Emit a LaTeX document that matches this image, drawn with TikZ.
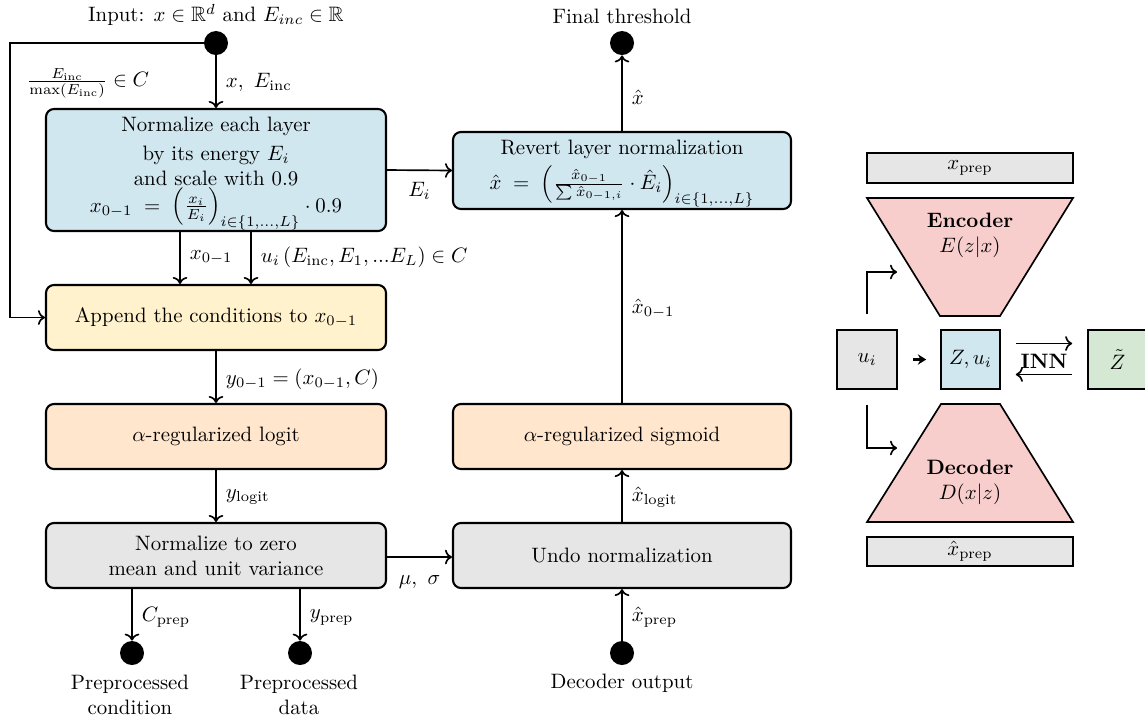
\documentclass[tikz,border=0pt]{standalone}
\usepackage{amsmath,amssymb}
\usetikzlibrary{arrows.meta,calc}
\def\pxl{0.48pt}
\definecolor{cblue}{RGB}{209,231,240}
\definecolor{cyellow}{RGB}{255,242,204}
\definecolor{corange}{RGB}{255,230,204}
\definecolor{cgray}{RGB}{230,230,230}
\definecolor{cpink}{RGB}{248,206,204}
\definecolor{cgreen}{RGB}{213,232,212}
\tikzset{
  box/.style={draw, line width=1pt, rounded corners=3.8pt, align=center, inner sep=0pt},
  lbox/.style={box, minimum width=340*\pxl},
  rbox/.style={box, minimum width=338*\pxl},
  sbox/.style={draw, line width=0.8pt, inner sep=0pt, align=center},
  dot/.style={circle, fill=black, minimum size=24*\pxl, inner sep=0pt},
  conn/.style={line width=0.8pt, ->},
  lbl/.style={right=1pt},
  plain/.style={align=center, inner sep=0pt},
}
\begin{document}
\begin{tikzpicture}[x=0.48pt, y=-0.48pt]
\useasboundingbox (0,0) rectangle (1145,720);

% ---------- left column ----------
\node[dot] (in) at (216,43) {};
\node[plain] (intext) at (216,15) {Input: $x \in \mathbb{R}^d$ and $E_{inc} \in \mathbb{R}$};
\node[lbox, fill=cblue, minimum height=122*\pxl] (norm) at (216,170) {};
\node[plain, anchor=north] (normtxt) at (216,117)
  {Normalize each layer\\[1.5pt]by its energy $E_i$\\[0pt]and scale with 0.9\\[1pt]
   $x_{0-1} \;=\; \left(\frac{x_i}{E_i}\right)_{i\in\{1,\ldots,L\}} \cdot 0.9$};
\node[lbox, fill=cyellow, minimum height=65*\pxl] (app) at (216,317.5)
  {Append the conditions to $x_{0-1}$};
\node[lbox, fill=corange, minimum height=65*\pxl] (logit) at (216,436.5)
  {$\alpha$-regularized logit};
\node[lbox, fill=cgray, minimum height=65*\pxl] (zero) at (216,555.5)
  {Normalize to zero\\mean and unit variance};
\node[dot] (pc) at (132,653) {};
\node[dot] (pd) at (300,653) {};
\node[plain] (pctext) at (130,695) {Preprocessed\\condition};
\node[plain] (pdtext) at (299,695) {Preprocessed\\data};
\node[plain] (fblbl) at (88,83) {$\frac{E_{\text{inc}}}{\max(E_{\text{inc}})} \in C$};
\coordinate (fbc) at (10,317.5);

% ---------- middle column ----------
\node[dot] (thr) at (622,43) {};
\node[plain] (thrtext) at (622,16) {Final threshold};
\node[rbox, fill=cblue, minimum height=77*\pxl] (rev) at (622,170.5) {};
\node[plain, anchor=north] (revtxt) at (622,140)
  {Revert layer normalization\\[2pt]
   $\hat{x} \;=\; \left(\frac{\hat{x}_{0-1}}{\sum \hat{x}_{0-1,i}}\cdot \hat{E}_i\right)_{i\in\{1,\ldots,L\}}$};
\node[rbox, fill=corange, minimum height=65*\pxl] (sig) at (622,436.5)
  {$\alpha$-regularized sigmoid};
\node[rbox, fill=cgray, minimum height=65*\pxl] (undo) at (622,555.5)
  {Undo normalization};
\node[dot] (dec) at (622,653) {};
\node[plain] (dectext) at (622,683) {Decoder output};

% ---------- connectors ----------
\draw[conn] (in) -- (norm) node[lbl, pos=0.52] {$x,\ E_{\text{inc}}$};
\draw[conn] (in.center) -| (fbc) -- (app.west);
\draw[conn] (norm.east) -- (rev.west) node[below=2pt, midway] {$E_i$};
\draw[conn] ([xshift=-36*\pxl]norm.south) -- ([xshift=-36*\pxl]app.north)
  node[lbl, pos=0.48] {$x_{0-1}$};
\draw[conn] ([xshift=35*\pxl]norm.south) -- ([xshift=35*\pxl]app.north)
  node[lbl, pos=0.48] {$u_i\,(E_{\text{inc}}, E_1, ...E_L) \in C$};
\draw[conn] (app) -- (logit) node[lbl, pos=0.55] {$y_{0-1} = (x_{0-1}, C)$};
\draw[conn] (logit) -- (zero) node[lbl, pos=0.52] {$y_{\text{logit}}$};
\draw[conn] (zero.south -| pc) -- (pc) node[lbl, pos=0.55] {$C_{\text{prep}}$};
\draw[conn] (zero.south -| pd) -- (pd) node[lbl, pos=0.55] {$y_{\text{prep}}$};
\draw[conn] ([yshift=-1.5*\pxl]zero.east) -- ([yshift=-1.5*\pxl]undo.west) node[below=5pt, midway] {$\mu,\ \sigma$};
\draw[conn] (dec) -- (undo) node[lbl, pos=0.45] {$\hat{x}_{\text{prep}}$};
\draw[conn] (undo) -- (sig) node[lbl, pos=0.48] {$\hat{x}_{\text{logit}}$};
\draw[conn] (sig) -- (rev) node[lbl, pos=0.49] {$\hat{x}_{0-1}$};
\draw[conn] (rev) -- (thr) node[lbl, pos=0.45] {$\hat{x}$};

% ---------- right diagram ----------
\node[sbox, fill=cgray, minimum width=206*\pxl, minimum height=30*\pxl] (xp) at (970,168) {$x_{\text{prep}}$};
\draw[line width=0.8pt, fill=cpink] (867,198) -- (1073,198) -- (1000,316) -- (940,316) -- cycle;
\node[plain] (enc) at (970,235) {\textbf{Encoder}\\$E(z|x)$};
\draw[line width=0.8pt, fill=cpink] (941,404) -- (1000,404) -- (1073,522) -- (867,522) -- cycle;
\node[plain] (decn) at (970,482) {\textbf{Decoder}\\$D(x|z)$};
\node[sbox, fill=cgray, minimum width=206*\pxl, minimum height=29*\pxl] (xhp) at (970,551.5) {$\hat{x}_{\text{prep}}$};
\node[sbox, fill=cgray, minimum width=60*\pxl, minimum height=59*\pxl] (ui) at (867,359.5) {$u_i$};
\node[sbox, fill=cblue, minimum width=59*\pxl, minimum height=59*\pxl] (zu) at (970.5,359.5) {$Z, u_i$};
\node[sbox, fill=cgreen, minimum width=59*\pxl, minimum height=59*\pxl] (zt) at (1117.5,359.5) {$\tilde{Z}$};
\node[plain] (inn) at (1044,361) {\textbf{INN}};
\coordinate (encin) at (897,272);
\coordinate (decin) at (897,448);
\draw[line width=1pt, -{Stealth[length=4pt,width=5pt]}, shorten <=15*\pxl, shorten >=14*\pxl] (ui) -- (zu);
\draw[conn, shorten <=15*\pxl, shorten >=15*\pxl] ([yshift=16*\pxl]zu.east) -- ([yshift=16*\pxl]zt.west);
\draw[conn, shorten <=15*\pxl, shorten >=15*\pxl] ([yshift=-15*\pxl]zt.west) -- ([yshift=-15*\pxl]zu.east);
\draw[conn] ([yshift=15*\pxl]ui.north) |- (encin);
\draw[conn] ([yshift=-15*\pxl]ui.south) |- (decin);
\end{tikzpicture}
\end{document}
